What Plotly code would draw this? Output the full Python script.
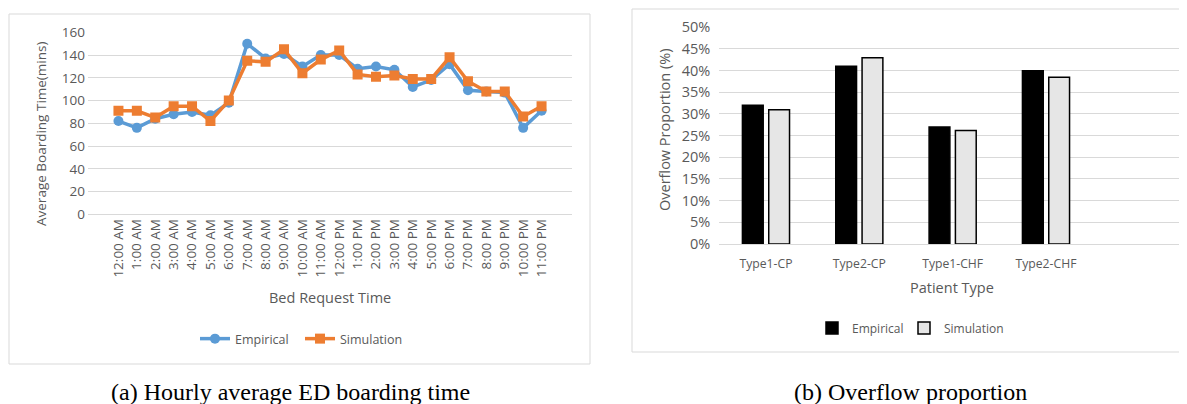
import plotly.graph_objects as go

hours = ["12:00 AM", "1:00 AM", "2:00 AM", "3:00 AM", "4:00 AM", "5:00 AM", "6:00 AM",
         "7:00 AM", "8:00 AM", "9:00 AM", "10:00 AM", "11:00 AM", "12:00 PM", "1:00 PM",
         "2:00 PM", "3:00 PM", "4:00 PM", "5:00 PM", "6:00 PM", "7:00 PM", "8:00 PM",
         "9:00 PM", "10:00 PM", "11:00 PM"]
empirical_time = [82, 76, 84, 88, 90, 87, 98, 150, 137, 141, 130, 140, 140, 128, 130, 127,
                  112, 118, 132, 109, 108, 107, 76, 91]
simulation_time = [91, 91, 85, 95, 95, 82, 100, 135, 134, 145, 124, 136, 144, 123, 121, 122,
                   119, 119, 138, 117, 108, 108, 86, 95]

patient_types = ["Type1-CP", "Type2-CP", "Type1-CHF", "Type2-CHF"]
empirical_overflow = [0.32, 0.41, 0.27, 0.40]
simulation_overflow = [0.31, 0.43, 0.262, 0.385]

# page has an 8px body margin; map target-page pixels to figure paper coords
OFF = 8
W, H = 1187 - OFF, 404 - OFF
def px(x):
    return (x - OFF) / W
def py(y):
    return 1 - (y - OFF) / H

TXT = "#595959"
GRID = "#d9d9d9"
FONT = "Open Sans"

fig = go.Figure()

fig.add_trace(go.Scatter(x=hours, y=empirical_time, name="Empirical", mode="lines+markers",
                         line=dict(color="#5B9BD5", width=3.5),
                         marker=dict(symbol="circle", size=10, color="#5B9BD5"),
                         xaxis="x", yaxis="y", legend="legend", showlegend=True))
fig.add_trace(go.Scatter(x=hours, y=simulation_time, name="Simulation", mode="lines+markers",
                         line=dict(color="#ED7D31", width=3.5),
                         marker=dict(symbol="square", size=10, color="#ED7D31"),
                         xaxis="x", yaxis="y", legend="legend2", showlegend=True))

fig.add_trace(go.Bar(x=patient_types, y=empirical_overflow, name="Empirical",
                     marker=dict(color="#000000", line=dict(color="#000000", width=1.5)),
                     xaxis="x2", yaxis="y2", legend="legend3", showlegend=True))
fig.add_trace(go.Bar(x=patient_types, y=simulation_overflow, name="Simulation",
                     marker=dict(color="#e6e6e6", line=dict(color="#000000", width=1.5)),
                     xaxis="x2", yaxis="y2", legend="legend4", showlegend=True))

def leg(text_left, ycen, size):
    return dict(orientation="h", x=px(text_left - 40), xanchor="left", y=py(ycen),
                yanchor="middle", font=dict(size=size, color=TXT), visible=True,
                bgcolor="rgba(0,0,0,0)", itemwidth=30)

fig.update_layout(
    template="none",
    showlegend=True,
    width=W, height=H,
    margin=dict(l=0, r=0, t=0, b=0, autoexpand=False),
    paper_bgcolor="white", plot_bgcolor="white",
    font=dict(family=FONT, size=13, color=TXT),
    barmode="group", bargap=0.436, bargroupgap=0.21,
    xaxis=dict(domain=[px(88), px(572)], type="category", showgrid=False,
               tickangle=-90, tickfont=dict(size=13.5, color=TXT), ticks="",
               ticklabelstandoff=1,
               showline=False, zeroline=False, anchor="y", automargin=False),
    yaxis=dict(domain=[py(214.3), py(32.3)], range=[0, 160], dtick=20,
               showgrid=True, gridcolor=GRID, gridwidth=1, zeroline=True,
               zerolinecolor=GRID, zerolinewidth=1, showline=False, ticks="",
               ticklabelstandoff=2,
               tickfont=dict(size=13.5, color=TXT), anchor="x", automargin=False),
    xaxis2=dict(domain=[px(719.3), px(1186)], type="category", range=[-0.5, 4.5],
                showgrid=False, ticks="", showline=False, zeroline=False,
                ticklabelstandoff=11,
                tickfont=dict(size=12.2, color=TXT), anchor="y2", automargin=False),
    yaxis2=dict(domain=[py(244), py(27.3)], range=[0, 0.5], dtick=0.05,
                tickformat=".0%", showgrid=True, gridcolor=GRID, gridwidth=1,
                zeroline=True, zerolinecolor=GRID, zerolinewidth=1, showline=False,
                ticks="", ticklabelstandoff=8,
                tickfont=dict(size=14.5, color=TXT), anchor="x2", automargin=False),
    legend=leg(235, 339, 12.5),
    legend2=leg(340, 339, 12.5),
    legend3=leg(852, 328, 12),
    legend4=leg(944, 328, 12),
    shapes=[
        dict(type="rect", xref="paper", yref="paper", x0=px(9), x1=px(590), y0=py(364), y1=py(14),
             line=dict(color=GRID, width=1), fillcolor="rgba(0,0,0,0)"),
        dict(type="rect", xref="paper", yref="paper", x0=px(632), x1=px(1186), y0=py(352), y1=py(9),
             line=dict(color=GRID, width=1), fillcolor="rgba(0,0,0,0)"),
    ],
    annotations=[
        dict(text="Average Boarding Time(mins)", xref="paper", yref="paper", x=px(41), y=py(134),
             textangle=-90, showarrow=False, font=dict(size=13.5, color=TXT),
             xanchor="center", yanchor="middle"),
        dict(text="Bed Request Time", xref="paper", yref="paper", x=px(330), y=py(297),
             showarrow=False, font=dict(size=14.5, color=TXT), xanchor="center", yanchor="middle"),
        dict(text="Overflow Proportion (%)", xref="paper", yref="paper", x=px(664), y=py(130),
             textangle=-90, showarrow=False, font=dict(size=14.5, color=TXT),
             xanchor="center", yanchor="middle"),
        dict(text="Patient Type", xref="paper", yref="paper", x=px(952), y=py(287),
             showarrow=False, font=dict(size=14.5, color=TXT), xanchor="center", yanchor="middle"),
        dict(text="(a) Hourly average ED boarding time", xref="paper", yref="paper",
             x=px(290), y=py(392), showarrow=False,
             font=dict(family="Liberation Serif", size=24, color="#000000"),
             xanchor="center", yanchor="middle"),
        dict(text="(b) Overflow proportion", xref="paper", yref="paper",
             x=px(910), y=py(392), showarrow=False,
             font=dict(family="Liberation Serif", size=24, color="#000000"),
             xanchor="center", yanchor="middle"),
    ],
)

fig.write_html("out.html")
